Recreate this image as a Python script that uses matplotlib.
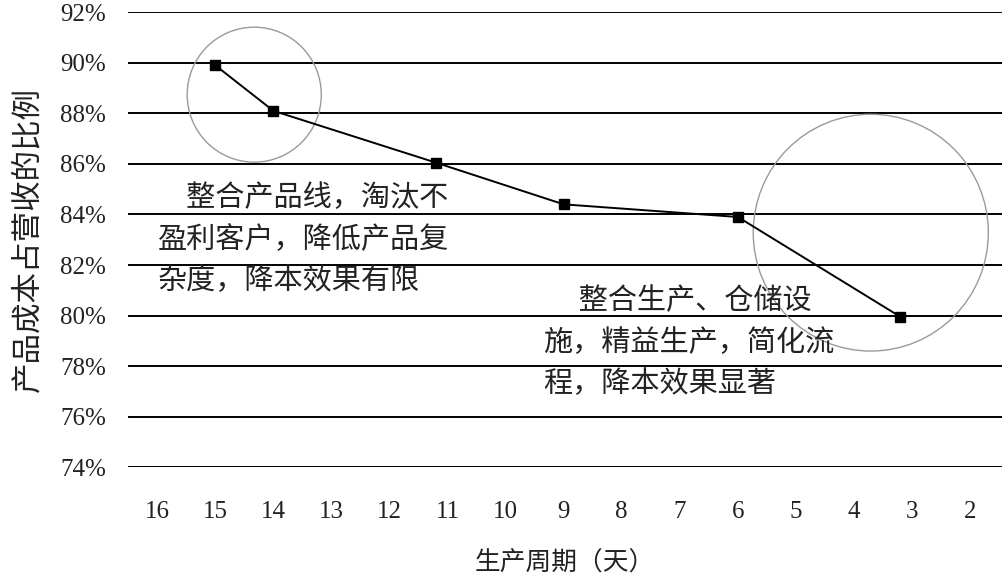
import matplotlib
matplotlib.use("Agg")
import matplotlib.pyplot as plt
from matplotlib.patches import Ellipse

plt.rcParams['font.family'] = ['Noto Sans CJK SC', 'DejaVu Sans']

# data
cycle_days = [15, 14, 11.2, 9, 6, 3.2]
cost_share = [89.9, 88.1, 86.05, 84.4, 83.9, 79.95]
x_ticks = list(range(16, 1, -1))
y_ticks = list(range(74, 93, 2))
y_labels = ['%d%%' % v for v in y_ticks]

note_left = '\u3000整合产品线，淘汰不\n盈利客户，降低产品复\n杂度，降本效果有限'
note_right = '\u3000 整合生产、仓储设\n施，精益生产，简化流\n程，降本效果显著'

fig = plt.figure(figsize=(10.02, 5.84), dpi=100)
ax = fig.add_axes([0.128, 0.2, 0.872, 0.779])

for v in y_ticks:
    ax.axhline(v, color='black', lw=1.4, zorder=1)

ax.plot(cycle_days, cost_share, color='black', lw=1.4, marker='s',
        markersize=7, markerfacecolor='black', zorder=3)

# the two highlight circles
ax.add_patch(Ellipse((14.33, 88.74), 2.31, 5.34, fill=False,
                     edgecolor='#9a9a9a', lw=1.0, zorder=2))
ax.add_patch(Ellipse((3.71, 83.28), 4.05, 9.37, fill=False,
                     edgecolor='#9a9a9a', lw=1.0, zorder=2))

ax.text(16.0, 83.0, note_left, fontsize=21, linespacing=1.5,
        va='center', ha='left', color='#222222', zorder=4)
ax.text(9.35, 78.92, note_right, fontsize=21, linespacing=1.5,
        va='center', ha='left', color='#222222', zorder=4)

ax.set_xlim(16.5, 1.45)
ax.set_ylim(74, 92)
ax.set_xticks(x_ticks)
ax.set_xticklabels([str(v) for v in x_ticks], fontfamily='Liberation Serif',
                   fontsize=18, color='#222222')
ax.set_yticks(y_ticks)
ax.set_yticklabels(y_labels, fontfamily='Liberation Serif',
                   fontsize=18, color='#222222')
ax.tick_params(axis='both', length=0)
ax.tick_params(axis='x', pad=24)
ax.tick_params(axis='y', pad=16)
for s in ax.spines.values():
    s.set_visible(False)

ax.set_xlabel('生产周期（天）', fontsize=18.5, labelpad=20, color='#222222')
ax.set_ylabel('产品成本占营收的比例', fontsize=22, labelpad=12, color='#222222')

fig.savefig('out.png', dpi=100)
